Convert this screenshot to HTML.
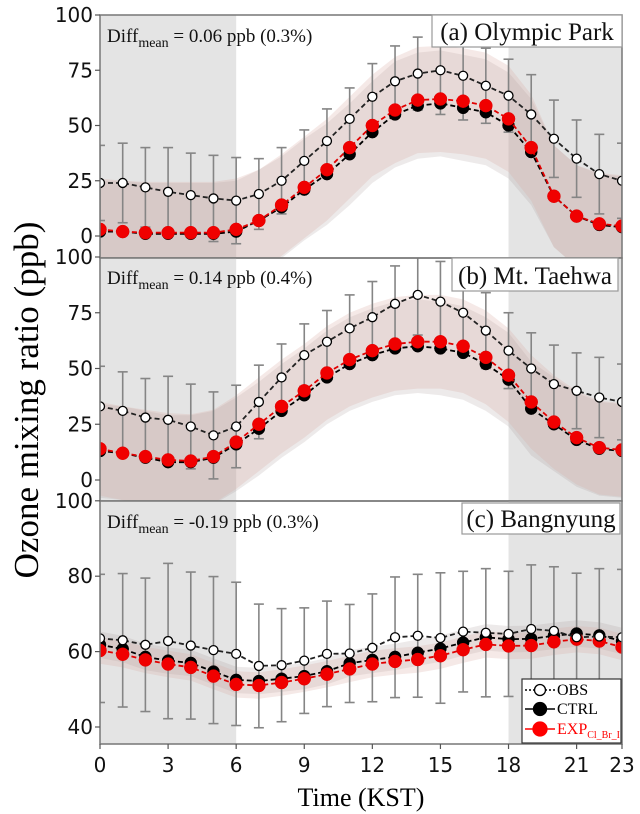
<!DOCTYPE html>
<html><head><meta charset="utf-8">
<style>
html,body{margin:0;padding:0;background:#fff;}
svg{display:block;}
</style></head>
<body>
<svg id="chart" width="640" height="814" viewBox="0 0 640 814" xmlns="http://www.w3.org/2000/svg">
<text transform="translate(38,400) rotate(-90)" text-anchor="middle" font-family="Liberation Serif, serif" font-size="35">Ozone mixing ratio (ppb)</text>
<text x="361" y="806" text-anchor="middle" font-family="Liberation Serif, serif" font-size="26">Time (KST)</text>
</svg>
<script>
const hours = [0,1,2,3,4,5,6,7,8,9,10,11,12,13,14,15,16,17,18,19,20,21,22,23];
const xTicks = [0,3,6,9,12,15,18,21,23];
const obsA = [24,24,22,20,18.5,17,16,19,25,34,43,53,63,70,73.5,75,72.5,68,63.5,55,44,35,28,25];
const ctrlA = [2,2,1,1,1,1,2,7,13,21,28,37,47,55,59,60,58,56,50,38,18,9,5,4];
const expA = [3,2,1.5,1.5,1.5,1.5,3,7,14,22,30,40,50,57,61.5,62,61,59,53,40,18,9,5.5,4.5];
const errA = [17,18,18,20,19,19.5,19.5,16,15,14,14.5,14,15,16,16.5,20,20,17,16.5,18,17.5,17.5,18,17];
const sdA = [23,23,23,23,23,23,23,23,23,23,23,23,23,24,24,24,24,24,24,24,23,23,23,23];
const obsB = [33,31,28,27,24,20,24,35,46,56,62,68,73,79,83,80,75,67,58,50,43,40,37,35];
const ctrlB = [13,12,10,8,8,10,16,23,31,38,46,52,56,59,60,59,57,52,45,32,25,18,14,13];
const expB = [14,12,10.5,9,8.5,10.5,17,25,33,40,48,54,58,61,62,62,60,55,47,35,26,19,14.5,13.5];
const errB = [18,17.5,17.5,19.5,19,19.5,18.5,16.5,15,14,14,15,16,17,18,18,17.5,17,17,16,17.5,17,18,17];
const sdB = [21,21,21,21,21,21,21,21,21,21,21,21,21,21,21,21,21,21,21,21,21,21,21,21];
const obsC = [63.5,63,61.8,62.8,61.6,60.4,59.4,56.2,56.4,57.6,59.4,59.5,61,63.8,64.2,63.6,65.3,65,64.7,66,65.5,63.8,64,63.8];
const ctrlC = [61.8,60.7,58.6,57.6,57,54.7,52.5,52.2,52.8,53.5,54.8,56.9,57.8,58.6,59.7,60.8,62.4,63.8,63.3,63.4,64.2,64.8,64.3,62.8];
const expC = [60.3,59.3,57.8,56.7,55.8,53.5,51.3,51,51.8,52.8,54,55.4,56.7,57.4,57.9,58.9,60.5,61.9,61.5,61.6,62.6,63.3,62.8,61.2];
const errC = [17,17.7,17.7,20.6,19.5,19.5,19,16.4,15,14,14,13,14.3,16,16.3,17.3,16,17,16.6,17,17,17,18,18];
const sdC = [3.5,3.5,3.5,3.5,3.5,3.5,3.5,3.5,3.5,3.5,3.5,3.5,3.5,3.5,3.5,3.5,3.5,3.5,3.5,3.5,3.5,3.5,3.5,3.5];
const ticksA = [0,25,50,75,100];
const ticksB = [0,25,50,75,100];
const ticksC = [40,60,80,100];

const NS = "http://www.w3.org/2000/svg";
const svg = document.getElementById('chart');
const X0 = 100, X1 = 622;
function xs(h){ return X0 + (h/23)*(X1-X0); }
function mk(tag, attrs, parent){
  const e = document.createElementNS(NS, tag);
  for (const k in attrs) e.setAttribute(k, attrs[k]);
  (parent||svg).appendChild(e);
  return e;
}
const panels = [
  {id:'a', top:15, bottom:258, v0:0, y0:236, ppu:2.21, obs:obsA, ctrl:ctrlA, exp:expA, err:errA, sd:sdA, ticks:ticksA,
   diff:'= 0.06 ppb (0.3%)', diffY:42, label:'(a) Olympic Park', lb:[432,15,190,32]},
  {id:'b', top:258, bottom:501, v0:0, y0:480, ppu:2.23, obs:obsB, ctrl:ctrlB, exp:expB, err:errB, sd:sdB, ticks:ticksB,
   diff:'= 0.14 ppb (0.4%)', diffY:284, label:'(b) Mt. Taehwa', lb:[452,258,166,33]},
  {id:'c', top:501, bottom:744, v0:40, y0:727, ppu:3.77, obs:obsC, ctrl:ctrlC, exp:expC, err:errC, sd:sdC, ticks:ticksC,
   diff:'= -0.19 ppb (0.3%)', diffY:528, label:'(c) Bangnyung', lb:[462,503,158,31]}
];
panels.forEach(p => {
  const g = mk('g', {});
  
  
  const ys = v => p.y0 - (v - p.v0)*p.ppu;
  const clipId = 'clip' + p.id;
  const cp = mk('clipPath', {id: clipId}, g);
  mk('rect', {x:X0, y:p.top, width:X1-X0, height:p.bottom-p.top}, cp);
  const inner = mk('g', {'clip-path':'url(#'+clipId+')'}, g);
  const n1 = mk('rect', {x:xs(0), y:p.top, width:xs(6)-xs(0), height:p.bottom-p.top, fill:'#e4e4e4'}, inner);
  
  
  const n2 = mk('rect', {x:xs(18), y:p.top, width:xs(23)-xs(18), height:p.bottom-p.top, fill:'#e4e4e4'}, inner);
  
  
  function band(vals, sd, fill, op, name){
    let d = '';
    hours.forEach((h,i)=>{ d += (i?'L':'M') + xs(h).toFixed(1) + ',' + ys(vals[i]+sd[i]).toFixed(1); });
    for (let i = hours.length-1; i >= 0; i--) d += 'L' + xs(hours[i]).toFixed(1) + ',' + ys(vals[i]-sd[i]).toFixed(1);
    const e = mk('path', {d: d+'Z', fill: fill, 'fill-opacity': op}, inner);
    
    
  }
  band(p.ctrl, p.sd, '#9a8a8a', 0.18, 'ctrl-band');
  band(p.exp, p.sd, '#d9a8a0', 0.25, 'exp-band');
  hours.forEach((h,i)=>{
    const x = xs(h), t = ys(p.obs[i]+p.err[i]), b = ys(p.obs[i]-p.err[i]);
    const eg = mk('g', {stroke:'#858585', 'stroke-width':1.6}, inner);
    
    
    mk('line', {x1:x, x2:x, y1:t, y2:b}, eg);
    mk('line', {x1:x-5, x2:x+5, y1:t, y2:t}, eg);
    mk('line', {x1:x-5, x2:x+5, y1:b, y2:b}, eg);
  });
  function series(vals, color, r, fill, name){
    const pts = hours.map((h,i)=> xs(h).toFixed(1)+','+ys(vals[i]).toFixed(1)).join(' ');
    const l = mk('polyline', {points: pts, fill:'none', stroke: color, 'stroke-width':1.8, 'stroke-dasharray':'5,3'}, inner);
    
    
    hours.forEach((h,i)=>{
      const c = mk('circle', {cx: xs(h), cy: ys(vals[i]), r: r, fill: fill, stroke: color==='#e00000'?'#e00000':'#000', 'stroke-width': fill==='#fff'?1.3:0.5}, inner);
      
      
    });
  }
  series(p.ctrl, '#000', 6, '#000', 'ctrl');
  series(p.exp, '#e00000', 6.5, '#f00000', 'exp');
  series(p.obs, '#222', 4.5, '#fff', 'obs');
  const fr = mk('rect', {x:X0, y:p.top, width:X1-X0, height:p.bottom-p.top, fill:'none', stroke:'#777', 'stroke-width':1.5}, g);
  
  
  p.ticks.forEach(v=>{
    const y = ys(v);
    mk('line', {x1:X0-5, x2:X0, y1:y, y2:y, stroke:'#555', 'stroke-width':1.2}, g);
    const t = mk('text', {x:X0-7, y:y+7, 'text-anchor':'end', 'font-family':'DejaVu Sans, sans-serif', 'font-size':20, fill:'#111'}, g);
    t.textContent = v;
    
    
  });
  const dt = mk('text', {x:107, y:p.diffY, 'font-family':'Liberation Serif, serif', 'font-size':19, fill:'#111'}, g);
  
  
  dt.innerHTML = 'Diff<tspan font-size="14" dy="5">mean</tspan><tspan dy="-5"> ' + p.diff + '</tspan>';
  const lbg = mk('g', {}, g);
  
  
  mk('rect', {x:p.lb[0], y:p.lb[1], width:p.lb[2], height:p.lb[3], fill:'#fff', stroke:'#999', 'stroke-width':1.2}, lbg);
  const lt = mk('text', {x:p.lb[0]+p.lb[2]/2, y:p.lb[1]+p.lb[3]-7, 'text-anchor':'middle', 'font-family':'Liberation Serif, serif', 'font-size':25, fill:'#111'}, lbg);
  lt.textContent = p.label;
});
xTicks.forEach(h=>{
  mk('line', {x1:xs(h), x2:xs(h), y1:744, y2:749, stroke:'#555', 'stroke-width':1.2});
  const t = mk('text', {x:xs(h), y:772, 'text-anchor':'middle', 'font-family':'DejaVu Sans, sans-serif', 'font-size':20, fill:'#111'});
  t.textContent = h;
  
  
});
const lg = mk('g', {});


mk('rect', {x:522, y:679, width:99, height:64, fill:'#fff', stroke:'#333', 'stroke-width':1.2}, lg);
const entries = [
  {name:'OBS', y:690, stroke:'#000', fill:'#fff', r:5.5, dash:'2,2', color:'#000'},
  {name:'CTRL', y:709, stroke:'#000', fill:'#000', r:6.5, dash:'', color:'#000'},
  {name:'EXP', y:729, stroke:'#f00', fill:'#f00', r:7, dash:'', color:'#f00'}
];
entries.forEach(e=>{
  const eg = mk('g', {}, lg);
  
  
  mk('line', {x1:525, x2:555, y1:e.y, y2:e.y, stroke:e.stroke, 'stroke-width':1.6, 'stroke-dasharray':e.dash}, eg);
  mk('circle', {cx:540, cy:e.y, r:e.r, fill:e.fill, stroke:e.stroke, 'stroke-width':1.3}, eg);
  const t = mk('text', {x:557, y:e.y+5, 'font-family':'Liberation Serif, serif', 'font-size':16, fill:e.color}, eg);
  if (e.name === 'EXP') t.innerHTML = 'EXP<tspan font-size="10" dy="4">Cl_Br_I</tspan>';
  else t.textContent = e.name;
});
</script>
</body></html>
